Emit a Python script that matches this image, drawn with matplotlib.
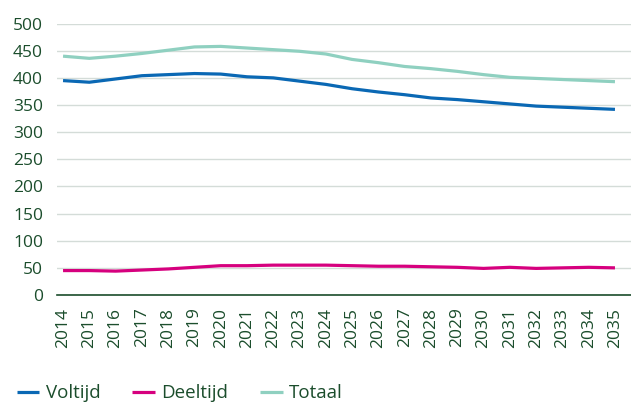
import numpy as np
import matplotlib
matplotlib.use("Agg")
import matplotlib.pyplot as plt

jaren = list(range(2014, 2036))
voltijd = [395, 392, 398, 404, 406, 408, 407, 402, 400, 394, 388, 380, 374, 369,
           363, 360, 356, 352, 348, 346, 344, 342]
deeltijd = [45, 45, 44, 46, 48, 51, 54, 54, 55, 55, 55, 54, 53, 53,
            52, 51, 49, 51, 49, 50, 51, 50]
totaal = [440, 436, 440, 445, 451, 457, 458, 455, 452, 449, 444, 434, 428, 421,
          417, 412, 406, 401, 399, 397, 395, 393]
y_ticks = list(range(0, 501, 50))

tekst = "#1b4d2c"
plt.rcParams['font.family'] = ['Open Sans', 'DejaVu Sans']

fig = plt.figure(figsize=(6.31, 4.05), dpi=100)
ax = fig.add_axes([57 / 631, 1 - 295 / 405, 1 - 57 / 631, (295 - 23.6) / 405])

ax.plot(jaren, voltijd, color="#0a68b4", lw=2.3, label="Voltijd", solid_capstyle="butt")
ax.plot(jaren, deeltijd, color="#d6007e", lw=2.3, label="Deeltijd", solid_capstyle="butt")
ax.plot(jaren, totaal, color="#8fd0c0", lw=2.3, label="Totaal", solid_capstyle="butt")

ax.set_xlim(2013.77, 2035.61)
ax.set_ylim(0, 500)
ax.set_yticks(y_ticks)
ax.set_xticks(jaren)
ax.set_xticklabels([str(j) for j in jaren], rotation=90)
ax.tick_params(length=0, labelsize=12.5, labelcolor=tekst)
ax.tick_params(axis='y', pad=10)
ax.tick_params(axis='x', pad=9)

ax.grid(axis='y', color="#d4dcd8", lw=1)
ax.set_axisbelow(True)
for s in ['top', 'right', 'left']:
    ax.spines[s].set_visible(False)
ax.spines['bottom'].set_color(tekst)
ax.spines['bottom'].set_linewidth(1.2)

fig.legend(loc='lower left', bbox_to_anchor=(0.0, -0.035), ncol=3, frameon=False,
           fontsize=13.5, labelcolor=tekst, handlelength=1.2, handletextpad=0.35,
           columnspacing=1.7)

fig.savefig("out.png", dpi=100)
